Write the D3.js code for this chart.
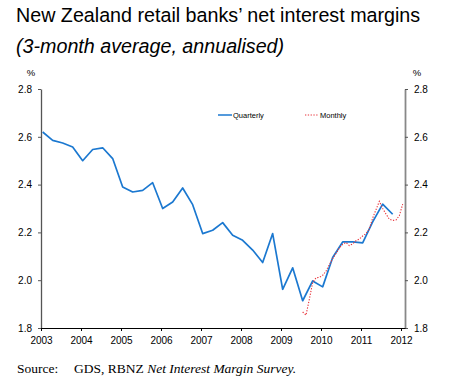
<!DOCTYPE html>
<html>
<head>
<meta charset="utf-8">
<script src="https://cdn.jsdelivr.net/npm/d3@7"></script>
<style>
  html, body { margin: 0; padding: 0; background: #fff; }
  svg { display: block; }
</style>
</head>
<body>
<svg id="chart" width="450" height="382"></svg>
<script>
// ---- data ----
const titleText = "New Zealand retail banks’ net interest margins";
const subtitleText = "(3-month average, annualised)";
const sourceLabel = "Source:";
const sourcePlain = "GDS, RBNZ ";
const sourceItalic = "Net Interest Margin Survey.";
const yTicks = [1.8, 2.0, 2.2, 2.4, 2.6, 2.8];
const xTickYears = [2003, 2004, 2005, 2006, 2007, 2008, 2009, 2010, 2011, 2012];

// Quarterly: 2003 Q1 .. 2011 Q4
const quarterlyStartYear = 2003;
const quarterlyValues = [
  2.62, 2.585, 2.574, 2.557, 2.50, 2.547, 2.554, 2.509,
  2.39, 2.369, 2.376, 2.408, 2.30, 2.327, 2.386, 2.316,
  2.195, 2.209, 2.241, 2.188, 2.167, 2.126, 2.074, 2.195,
  1.962, 2.052, 1.914, 1.997, 1.972, 2.095, 2.160, 2.160,
  2.156, 2.244, 2.318, 2.276
];
// Monthly: Jul 2009 .. Jan 2012
const monthlyStart = { year: 2009, month: 7 };
const monthlyValues = [
  1.867, 1.854, 1.92, 1.99, 2.01, 2.012, 2.02, 2.038, 2.065, 2.09,
  2.112, 2.135, 2.15, 2.158, 2.145, 2.152, 2.165, 2.172, 2.185, 2.195,
  2.215, 2.26, 2.295, 2.33, 2.30, 2.277, 2.255, 2.25, 2.252, 2.27,
  2.318
];
const seriesNames = ["Quarterly", "Monthly"];

// ---- build ----
const quarterly = quarterlyValues.map((v, i) => ({
  t: quarterlyStartYear + (i * 3) / 12 + 1 / 24, v
}));
const monthly = monthlyValues.map((v, i) => ({
  t: monthlyStart.year + (monthlyStart.month - 1 + i) / 12 + 1 / 24, v
}));

const svg = d3.select("#chart");
const font = "Liberation Sans, Arial, sans-serif";

const x = d3.scaleLinear().domain([2003, 2012.1]).range([41, 405]);
const y = d3.scaleLinear().domain([1.8, 2.8]).range([328, 89]);

// titles
svg.append("text").attr("x", 16).attr("y", 22)
  .attr("font-family", font).attr("font-size", 19.7).attr("fill", "#000")
  .text(titleText);
svg.append("text").attr("x", 16).attr("y", 53)
  .attr("font-family", font).attr("font-size", 19.7).attr("font-style", "italic").attr("fill", "#000")
  .text(subtitleText);

// % labels
svg.append("text").attr("x", 31).attr("y", 76).attr("text-anchor", "middle")
  .attr("font-family", font).attr("font-size", 9.5).text("%");
svg.append("text").attr("x", 417).attr("y", 76).attr("text-anchor", "middle")
  .attr("font-family", font).attr("font-size", 9.5).text("%");

// axes
const fmt = d3.format(".1f");
const left = svg.append("g").attr("transform", `translate(${x.range()[0]},0)`)
  .call(d3.axisLeft(y).tickValues(yTicks).tickFormat(fmt).tickSize(3).tickPadding(6).tickSizeOuter(0));
const right = svg.append("g").attr("transform", `translate(${x.range()[1]},0)`)
  .call(d3.axisRight(y).tickValues(yTicks).tickFormat(fmt).tickSize(3).tickPadding(6).tickSizeOuter(0));
const bottom = svg.append("g").attr("transform", `translate(0,${y.range()[0]})`)
  .call(d3.axisBottom(x).tickValues(xTickYears).tickFormat(d3.format("d")).tickSize(3).tickPadding(6).tickSizeOuter(0));

[left, right, bottom].forEach(g => {
  g.selectAll("text").attr("font-family", font).attr("font-size", 10).attr("fill", "#000");
});
left.select(".domain").attr("stroke", "#555").attr("stroke-width", 1.3);
left.selectAll(".tick line").attr("stroke", "#555");
right.select(".domain").attr("stroke", "#888").attr("stroke-width", 1.8);
right.selectAll(".tick line").attr("stroke", "#555");
bottom.select(".domain").attr("stroke", "#000").attr("stroke-width", 1);
bottom.selectAll(".tick line").attr("stroke", "#000");

// lines
const line = d3.line().x(d => x(d.t)).y(d => y(d.v));
svg.append("path").datum(quarterly)
  .attr("d", line).attr("fill", "none")
  .attr("stroke", "#1b78d0").attr("stroke-width", 1.7).attr("stroke-linejoin", "round");
svg.append("path").datum(monthly)
  .attr("d", line).attr("fill", "none")
  .attr("stroke", "#e8333a").attr("stroke-width", 1.1).attr("stroke-dasharray", "1.3,1.5");

// legend
const lg = svg.append("g").attr("font-family", font).attr("font-size", 7.5);
lg.append("line").attr("x1", 218).attr("x2", 232).attr("y1", 115).attr("y2", 115)
  .attr("stroke", "#1b78d0").attr("stroke-width", 1.5);
lg.append("text").attr("x", 233).attr("y", 117.8).text(seriesNames[0]);
lg.append("line").attr("x1", 305).attr("x2", 319).attr("y1", 115).attr("y2", 115)
  .attr("stroke", "#e8333a").attr("stroke-width", 1.1).attr("stroke-dasharray", "1.3,1.5");
lg.append("text").attr("x", 320).attr("y", 117.8).text(seriesNames[1]);

// source
const serif = "Liberation Serif, Times New Roman, serif";
svg.append("text").attr("x", 17).attr("y", 373)
  .attr("font-family", serif).attr("font-size", 13.5).text(sourceLabel);
const src = svg.append("text").attr("x", 74).attr("y", 373)
  .attr("font-family", serif).attr("font-size", 13.5);
src.append("tspan").text(sourcePlain);
src.append("tspan").attr("font-style", "italic").text(sourceItalic);
</script>
</body>
</html>
